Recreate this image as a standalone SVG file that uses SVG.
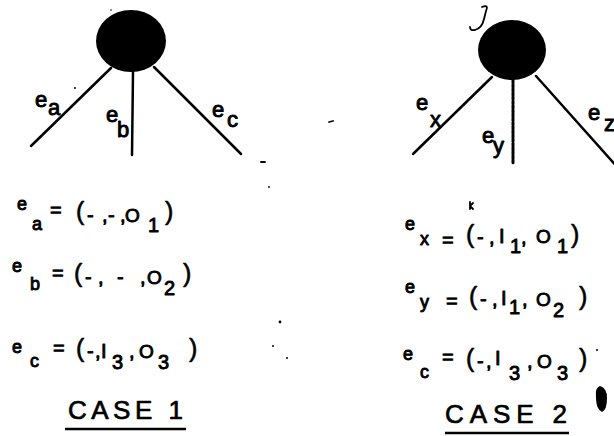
<svg xmlns="http://www.w3.org/2000/svg" width="614" height="436" viewBox="0 0 614 436">
<style>
  text{font-family:"Liberation Sans",Arial,sans-serif;fill:#000;stroke:#000;stroke-width:0.9;stroke-linejoin:round}
  .m{font-size:20px}
  .p{font-size:25px;stroke-width:0.6}
  .o{font-size:19px}
  .s{font-size:18px}
  .l{font-size:22px}
  .case{font-size:26px;stroke-width:0.7}
  .edge{stroke:#000;stroke-width:2.5;fill:none;stroke-linecap:round}
  .dash{stroke-dasharray:3 1.2;stroke-width:3}
  .ul{stroke:#000;stroke-width:2.5}
  .mark{stroke:#000;stroke-width:1.8;fill:none;stroke-linecap:round}
</style>
<rect width="614" height="436" fill="#fff"/>

<g id="case1-node"><ellipse cx="131" cy="41" rx="35" ry="31" fill="#000"/></g>
<g id="case2-node"><ellipse cx="512" cy="50" rx="34" ry="30" fill="#000"/></g>

<g id="connectors">
  <line class="edge" x1="111" y1="68" x2="31" y2="146"/>
  <line class="edge" x1="133" y1="72" x2="132" y2="155"/>
  <line class="edge" x1="154" y1="67" x2="241" y2="154"/>
  <line class="edge" x1="492" y1="77" x2="413" y2="154"/>
  <line class="edge dash" x1="513" y1="80" x2="513" y2="163"/>
  <line class="edge" x1="536" y1="76" x2="620" y2="170"/>
</g>

<g id="edge-labels">
  <text class="l" x="35" y="107">e</text><text class="l" x="48" y="115">a</text>
  <text class="l" x="106" y="122">e</text><text class="l" x="117" y="137">b</text>
  <text class="l" x="212" y="117">e</text><text class="l" x="227" y="127">c</text>
  <text class="l" x="416" y="110">e</text><text class="l" x="430" y="127" font-size="23">x</text>
  <text class="l" x="482" y="143">e</text><text class="l" x="493" y="153">y</text>
  <text class="l" x="588" y="120">e</text><text class="l" x="604" y="131">z</text>
</g>

<g id="case1-equations">
  <text><tspan class="s" x="17" y="210">e</tspan><tspan class="s" x="32" y="230">a</tspan><tspan class="m" x="50" y="217">=</tspan><tspan class="p" x="76" y="220">(</tspan><tspan class="m" x="87" y="222">-</tspan><tspan class="m" x="102" y="222">,</tspan><tspan class="m" x="108" y="222">-</tspan><tspan class="m" x="120" y="222">,</tspan><tspan class="o" x="125" y="222">O</tspan><tspan class="m" x="148" y="232">1</tspan><tspan class="p" x="165" y="220">)</tspan></text>
  <text><tspan class="s" x="12" y="272">e</tspan><tspan class="s" x="30" y="290">b</tspan><tspan class="m" x="52" y="280">=</tspan><tspan class="p" x="74" y="282">(</tspan><tspan class="m" x="85" y="284">-</tspan><tspan class="m" x="98" y="284">,</tspan><tspan class="m" x="117" y="284">-</tspan><tspan class="m" x="140" y="284">,</tspan><tspan class="o" x="147" y="284">O</tspan><tspan class="m" x="164" y="295">2</tspan><tspan class="p" x="183" y="282">)</tspan></text>
  <text><tspan class="s" x="12" y="353">e</tspan><tspan class="s" x="30" y="367">c</tspan><tspan class="m" x="53" y="355">=</tspan><tspan class="p" x="76" y="357">(</tspan><tspan class="m" x="87" y="358">-</tspan><tspan class="m" x="95" y="358">,</tspan><tspan class="m" x="101" y="358">I</tspan><tspan class="m" x="112" y="369">3</tspan><tspan class="m" x="129" y="358">,</tspan><tspan class="o" x="139" y="358">O</tspan><tspan class="m" x="158" y="369">3</tspan><tspan class="p" x="189" y="357">)</tspan></text>
</g>

<g id="case2-equations">
  <text><tspan class="s" x="405" y="230">e</tspan><tspan class="s" x="420" y="245">x</tspan><tspan class="m" x="442" y="247">=</tspan><tspan class="p" x="466" y="243">(</tspan><tspan class="m" x="477" y="244">-</tspan><tspan class="m" x="489" y="244">,</tspan><tspan class="m" x="499" y="243">I</tspan><tspan class="m" x="510" y="253">1</tspan><tspan class="m" x="521" y="244">,</tspan><tspan class="o" x="536" y="243">O</tspan><tspan class="m" x="557" y="253">1</tspan><tspan class="p" x="571" y="243">)</tspan></text>
  <text><tspan class="s" x="405" y="293">e</tspan><tspan class="s" x="420" y="308">y</tspan><tspan class="m" x="446" y="308">=</tspan><tspan class="p" x="469" y="305">(</tspan><tspan class="m" x="480" y="306">-</tspan><tspan class="m" x="492" y="306">,</tspan><tspan class="m" x="501" y="305">I</tspan><tspan class="m" x="509" y="314">1</tspan><tspan class="m" x="522" y="306">,</tspan><tspan class="o" x="536" y="306">O</tspan><tspan class="m" x="553" y="317">2</tspan><tspan class="p" x="579" y="305">)</tspan></text>
  <text><tspan class="s" x="403" y="360">e</tspan><tspan class="s" x="420" y="378">c</tspan><tspan class="m" x="442" y="364">=</tspan><tspan class="p" x="466" y="367">(</tspan><tspan class="m" x="477" y="368">-</tspan><tspan class="m" x="486" y="368">,</tspan><tspan class="m" x="495" y="365">I</tspan><tspan class="m" x="509" y="380">3</tspan><tspan class="m" x="527" y="368">,</tspan><tspan class="o" x="537" y="368">O</tspan><tspan class="m" x="557" y="380">3</tspan><tspan class="p" x="579" y="367">)</tspan></text>
</g>

<g id="case1-title">
  <text class="case" x="68" y="419" textLength="115" lengthAdjust="spacing">CASE 1</text>
  <line class="ul" x1="65" y1="429" x2="186" y2="429"/>
</g>
<g id="case2-title">
  <text class="case" x="445" y="423" textLength="122" lengthAdjust="spacing">CASE 2</text>
  <line class="ul" x1="445" y1="433" x2="569" y2="433"/>
</g>

<g id="marks">
  <path class="mark" d="M482 7 Q489 4 486 11 L484 19 Q482 28 475 30 Q470 31 470 27"/>
  <path class="mark" stroke-width="1.4" d="M470 202 L470 209 M470 206 L473 203 M470 206 L473 209"/>
  <circle cx="75" cy="88" r="1"/>
  <circle cx="111" cy="10" r="0.8"/>
  <path class="mark" stroke-width="1.2" d="M261 162 L265 162"/>
  <circle cx="269" cy="187" r="0.9"/>
  <path class="mark" stroke-width="1.4" d="M329 122 L333 121"/>
  <circle cx="280" cy="322" r="1.4"/>
  <circle cx="273" cy="346" r="1"/>
  <circle cx="287" cy="358" r="1"/>
  <circle cx="597" cy="350" r="1"/>
  <path d="M600 386 Q607 388 607 398 Q607 410 602 412 Q596 409 596 398 Q595 387 600 386 Z"/>
</g>
</svg>
